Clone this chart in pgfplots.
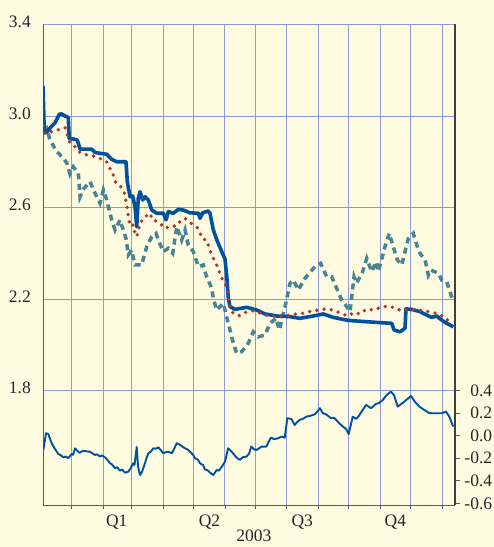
\documentclass[border=0pt]{standalone}
\usepackage{fontspec}
\setmainfont{Liberation Serif}
\usepackage{pgfplots}
\pgfplotsset{compat=1.18}
\usepackage{pgfplotstable}
\definecolor{bg}{RGB}{254,251,224}
\definecolor{gridc}{RGB}{140,155,215}
\definecolor{mainblue}{RGB}{0,82,160}
\definecolor{tealc}{RGB}{70,132,150}
\definecolor{dotred}{RGB}{178,52,42}
\definecolor{axc}{RGB}{90,90,90}

\pgfplotstableread{
d v
-28.3 3.131
-27 2.926
-24.6 2.93
-19.7 2.956
-16.5 2.97
-12.2 3.008
-9.9 3.009
-6.6 3.0
-3.4 2.994
-2.4 2.90
1.6 2.90
5.5 2.895
8.2 2.856
13.1 2.855
19.7 2.855
23 2.841
27.9 2.837
34.5 2.833
39.4 2.811
44.4 2.80
49.3 2.80
53.5 2.80
54.8 2.713
57.5 2.647
60.1 2.65
62.4 2.604
64.1 2.516
65.6 2.64
67.3 2.669
70 2.633
72.3 2.647
75.5 2.633
78.9 2.589
83.8 2.575
90.3 2.575
93 2.546
95.2 2.582
100.1 2.575
105.1 2.592
110 2.589
116.6 2.577
124.8 2.575
126.5 2.553
129.1 2.577
134.6 2.585
136.3 2.575
139.6 2.502
142.9 2.46
147.9 2.407
151.1 2.375
152.8 2.30
154.4 2.203
156 2.167
161 2.155
172.5 2.164
182.4 2.152
190.5 2.135
202.1 2.126
215.2 2.123
225 2.116
238.1 2.126
248 2.135
257.9 2.12
271.1 2.108
277.6 2.105
290.8 2.101
303.9 2.097
315.4 2.094
317.7 2.065
323.6 2.057
328.5 2.072
329.5 2.157
335.1 2.155
343.3 2.145
349.9 2.13
354.8 2.12
359.8 2.126
364.7 2.108
369.6 2.094
376.1 2.079
}\thickblue

\pgfplotstableread{
d v
-28.3 2.96
-26.3 2.925
-21.4 2.93
-14.2 2.939
-6.6 2.949
-1.7 2.883
3.3 2.866
8.2 2.84
14.8 2.83
21.3 2.825
27.9 2.815
34.5 2.80
41 2.742
43.7 2.706
48.3 2.691
51.6 2.669
54.2 2.615
55.8 2.56
57.5 2.519
60.7 2.524
62.4 2.487
64.1 2.473
67.3 2.531
72.3 2.56
77.2 2.575
79.8 2.546
85.4 2.538
92 2.509
97.6 2.519
102.8 2.519
106.8 2.538
111.7 2.553
116.6 2.534
123.2 2.516
126.5 2.487
129.7 2.461
133.1 2.458
135.6 2.422
138 2.393
141.3 2.363
144.5 2.334
146.9 2.298
151.1 2.272
153.4 2.24
154.4 2.203
156 2.155
159.3 2.138
165.9 2.127
172.5 2.145
179 2.149
186.3 2.138
193.8 2.127
200.4 2.126
207 2.123
214.5 2.129
221.1 2.135
229 2.138
236.6 2.148
243.1 2.152
250.7 2.157
257.9 2.152
265.2 2.138
272.1 2.126
278.3 2.141
284.2 2.135
290.1 2.155
298 2.152
304.6 2.164
312.1 2.17
319.4 2.16
325.3 2.148
333.5 2.155
340.7 2.152
348.3 2.148
356.4 2.141
362.3 2.134
368.9 2.116
371.2 2.104
}\reddots

\pgfplotstableread{
d v
-28.3 2.93
-24.6 2.946
-21.4 2.895
-18.1 2.87
-14.8 2.844
-12.2 2.834
-4.9 2.796
-1.7 2.747
1.6 2.778
6.5 2.75
8.2 2.647
11.4 2.68
18 2.713
23 2.662
27.9 2.619
31.2 2.677
34.5 2.633
39.4 2.546
42.7 2.502
47.6 2.546
53.5 2.465
55.8 2.393
59.1 2.414
62.4 2.349
69 2.349
73.9 2.429
78.9 2.473
83.1 2.487
85.4 2.458
90.3 2.407
95.2 2.422
99.6 2.40
103.5 2.516
108.4 2.458
111.7 2.502
114.9 2.436
119.9 2.407
124.8 2.342
129.7 2.349
132.4 2.305
138 2.247
139.6 2.203
142.9 2.152
149.4 2.181
156 2.065
159.3 2.007
162.6 1.963
167.6 1.97
174.1 2.007
179 2.057
183.9 2.035
190.5 2.043
195.5 2.094
201.4 2.116
204.6 2.065
210.3 2.167
215.2 2.269
218.4 2.283
223.4 2.24
230 2.291
239.8 2.342
245.4 2.356
251.3 2.298
256.3 2.298
261.8 2.24
266.1 2.196
271.1 2.167
274.3 2.145
276 2.21
278.3 2.298
280.9 2.269
286.8 2.32
290.8 2.378
295.7 2.32
300 2.363
302.2 2.32
308.8 2.429
313 2.487
316.4 2.436
320.9 2.371
325.3 2.349
328.5 2.407
331.8 2.465
336.7 2.487
340.1 2.436
343.3 2.40
348.3 2.371
351.5 2.305
353.9 2.327
361.4 2.313
364.7 2.283
369.6 2.276
374.5 2.21
375.5 2.196
}\tealdash

\pgfplotstableread{
d r
-28.0 -0.127
-25.3 0.022
-23.1 0.015
-19.7 -0.067
-16.5 -0.118
-13.2 -0.162
-10.5 -0.175
-8.3 -0.192
-5.6 -0.185
-3.4 -0.20
0 -0.162
1.3 -0.17
3.3 -0.112
5.2 -0.13
7.5 -0.151
11.4 -0.133
15.1 -0.14
18.0 -0.142
21.0 -0.16
23.0 -0.171
24.9 -0.165
27.9 -0.186
29.9 -0.175
32.8 -0.192
34.8 -0.21
37.8 -0.245
39.7 -0.255
42.7 -0.289
44.7 -0.28
47.6 -0.31
49.6 -0.30
52.5 -0.328
55.5 -0.32
57.5 -0.298
60.7 -0.245
61.9 -0.26
64.1 -0.10
65.4 -0.275
67.3 -0.349
69.3 -0.32
72.2 -0.245
73.7 -0.20
75.5 -0.156
78.2 -0.14
80.4 -0.112
83.1 -0.115
85.4 -0.103
88.0 -0.13
90.3 -0.156
93.0 -0.145
95.2 -0.142
98.6 -0.156
100.8 -0.12
103.5 -0.067
106.8 -0.082
109.7 -0.10
111.7 -0.112
114.6 -0.125
116.6 -0.142
119.6 -0.17
121.5 -0.20
124.5 -0.215
126.5 -0.245
129.4 -0.26
131.4 -0.298
134.4 -0.31
136.3 -0.328
139.6 -0.349
142.9 -0.304
145.2 -0.31
147.9 -0.275
151.1 -0.231
154.1 -0.112
157.7 -0.142
162.0 -0.19
165.6 -0.215
168.9 -0.19
172.1 -0.186
174.8 -0.16
177.0 -0.097
179.7 -0.12
182.0 -0.127
187.3 -0.097
191.8 -0.097
196.2 -0.017
199.4 -0.03
203.4 -0.023
207.0 -0.008
210.0 -0.017
212.5 0.155
216.5 0.149
219.8 0.095
222.1 0.12
224.7 0.14
228.0 0.15
231.2 0.169
234.9 0.175
239.5 0.19
241.8 0.21
244.7 0.244
247.4 0.2
250.7 0.19
255.6 0.155
258.6 0.16
263.8 0.11
267.4 0.08
270.4 0.06
273.0 0.015
277.0 0.169
280.2 0.15
282.5 0.169
286.2 0.22
290.1 0.273
295.0 0.244
299.9 0.282
302.9 0.29
306.6 0.317
310.5 0.362
314.7 0.391
317.7 0.36
321.3 0.258
324.6 0.28
327.8 0.302
331.5 0.33
334.4 0.353
338.4 0.3
342.6 0.258
347.3 0.23
352.5 0.2
358.1 0.199
364.7 0.199
368.9 0.214
372.2 0.169
376.1 0.08
}\spread

\begin{document}
\begin{tikzpicture}
\path[use as bounding box, fill=bg] (-43bp,-42bp) rectangle (451bp,505bp);
\begin{axis}[
  at={(0,0)}, anchor=south west,
  scale only axis, width=412bp, height=480.5bp,
  xmin=-28.3, xmax=377.8, ymin=1.3, ymax=3.4,
  axis x line*=bottom, axis y line*=left,
  axis line style={draw=axc, line width=1bp},
  xtick={0,31,59,90,120,151,181,212,243,273,304,334,365},
  xticklabels={},
  extra x ticks={44.4,135.8,227.2,319},
  extra x tick labels={Q1,Q2,Q3,Q4},
  extra x tick style={grid=none, major tick length=0pt,
    xticklabel style={anchor=north, inner sep=0pt, yshift=-10bp}},
  xmajorgrids, ymajorgrids,
  grid style={draw=gridc, line width=0.9bp},
  ytick={1.8,2.2,2.6,3.0,3.4},
  ytick style={draw=none},
  xtick style={draw=axc, line width=0.8bp},
  tick align=outside, major tick length=4bp,
  /pgf/number format/assume math mode=true,
  yticklabel style={/pgf/number format/fixed, /pgf/number format/precision=1,
    /pgf/number format/fixed zerofill, anchor=east, inner sep=0pt, xshift=-8bp, yshift=2.5bp},
  tick label style={font=\fontsize{17.5bp}{21bp}\selectfont, text=black!85},
  xlabel={2003},
  xlabel style={at={(axis description cs:0.512,0)}, anchor=north, inner sep=0pt,
    yshift=-25bp, font=\fontsize{17.5bp}{21bp}\selectfont, text=black!85},
]
\addplot[tealc, line width=3.5bp, dash pattern=on 6bp off 4.5bp] table[x=d,y=v] {\tealdash};
\addplot[mainblue, line width=3.6bp, line join=round] table[x=d,y=v] {\thickblue};
\addplot[dotred, line width=3.8bp, line cap=round, dash pattern=on 0bp off 7.3bp] table[x=d,y=v] {\reddots};
\end{axis}
\begin{axis}[
  at={(0,0)}, anchor=south west,
  scale only axis, width=412bp, height=480.5bp,
  xmin=-28.3, xmax=377.8, ymin=-0.615, ymax=3.649,
  axis x line=none, axis y line*=right,
  axis line style={draw=axc!70!black, line width=1.2bp},
  ytick={-0.6,-0.4,-0.2,0,0.2,0.4},
  yticklabels={-0.6,-0.4,-0.2,0.0,0.2,0.4},
  tick align=outside, major tick length=5bp,
  ytick style={draw=axc, line width=0.8bp},
  yticklabel style={anchor=west, inner sep=0pt, text width=28bp, align=right, xshift=4bp},
  tick label style={font=\fontsize{17.5bp}{21bp}\selectfont, text=black!85},
]
\addplot[mainblue, line width=1.9bp, line join=round] table[x=d,y=r] {\spread};
\end{axis}
\end{tikzpicture}
\end{document}
